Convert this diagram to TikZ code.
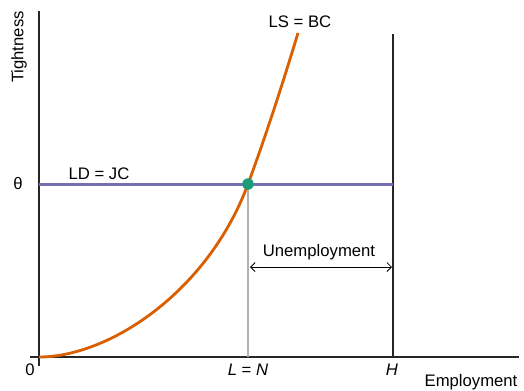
\documentclass[tikz,border=0pt]{standalone}
\usepackage{fontspec}
\setmainfont{Liberation Sans}
\usetikzlibrary{positioning,arrows.meta}
\definecolor{naranja}{HTML}{D95F02}
\definecolor{morado}{HTML}{7570B3}
\definecolor{verde}{HTML}{1B9E77}

\begin{document}
\begin{tikzpicture}[x=0.02cm, y=-0.02cm, every node/.style={font=\fontsize{9.5}{11}\selectfont, inner sep=1pt},
  eje/.style={line width=0.6pt, black!85},
  guia/.style={line width=0.6pt, black!30},
  oferta/.style={line width=1.6pt, naranja},
  demanda/.style={line width=1.7pt, morado},
  punto/.style={circle, fill=verde, minimum size=0.23cm, inner sep=0pt},
  flecha/.style={{Straight Barb[length=0.9mm]}-{Straight Barb[length=0.9mm]}, line width=0.5pt}]
\useasboundingbox (0,0) rectangle (524,390);
\coordinate (ytop) at (39,11); \coordinate (ybot) at (39,366);
\coordinate (xl) at (30,357); \coordinate (xr) at (519,357);
\coordinate (htop) at (393,34); \coordinate (hbot) at (393,357);
\coordinate (eq) at (248,184); \coordinate (nbot) at (248,357);
\coordinate (ldl) at (39,184); \coordinate (ldr) at (393,184);
\coordinate (ua) at (250,267); \coordinate (ub) at (392,267);
\coordinate (lsbot) at (39,357); \coordinate (lstop) at (298,33);
\draw[eje] (ytop) -- (ybot);
\draw[eje] (xl) -- (xr);
\draw[guia] (eq) -- (nbot);
\draw[eje] (htop) -- (hbot);
\draw[demanda] (ldl) -- (ldr);
\draw[oferta] (lsbot) .. controls (109,357) and (208,292) .. (eq)
  .. controls (265,138) and (281,89) .. (lstop);
\node[punto] (eqdot) at (eq) {};
\draw[flecha] (ua) -- (ub);
\node[rotate=90] (tight) at (19,47) {Tightness};
\node (theta) at (18,184) {θ};
\node (lsbc) at (300,22) {LS = BC};
\node (ldjc) at (99,174) {LD = JC};
\node (unemp) at (319,252) {Unemployment};
\node (zero) at (30,370) {0};
\node (lneqn) at (248,370) {\textit{L} = \textit{N}};
\node (hh) at (392,370) {\textit{H}};
\node (emp) at (471,382) {Employment};
\end{tikzpicture}
\end{document}
